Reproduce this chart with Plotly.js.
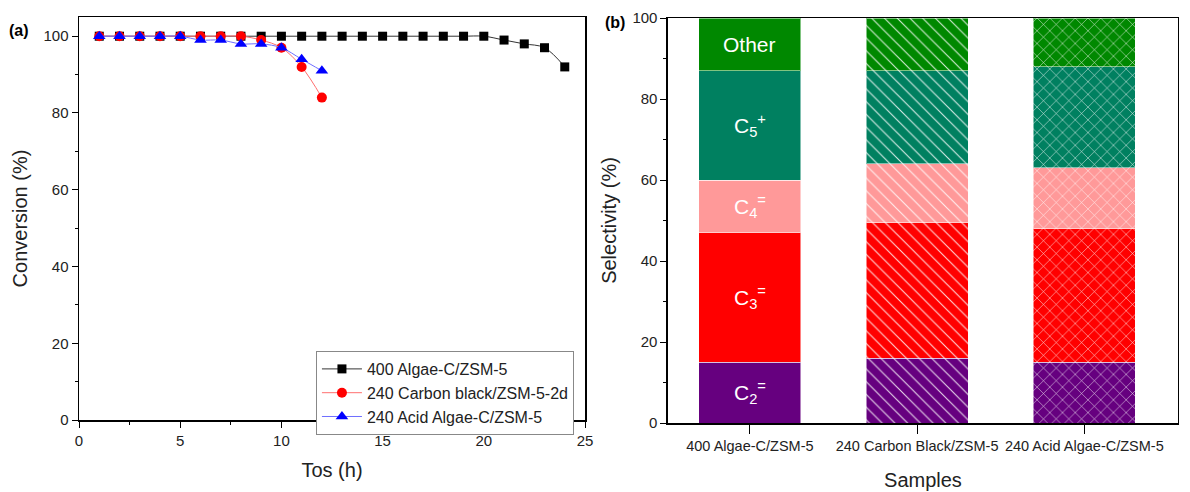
<!DOCTYPE html>
<html><head><meta charset="utf-8">
<script src="https://cdn.plot.ly/plotly-3.0.1.min.js"></script>
<style>html,body{margin:0;padding:0;background:#fff}#chart{width:1190px;height:492px}</style>
</head><body><div id="chart"></div>
<script>
// ---- Data: panel (a) conversion vs time on stream ----
const tosBlack = [1,2,3,4,5,6,7,8,9,10,11,12,13,14,15,16,17,18,19,20,21,22,23,24];
const convBlack = [100,100,100,100,100,100,100,100,100,100,100,100,100,100,100,100,100,100,100,100,99,98,97,92];
const tosRed = [1,2,3,4,5,6,7,8,9,10,11,12];
const convRed = [100,100,100,100,100,100,100,100,99,97,92,84];
const tosBlue = [1,2,3,4,5,6,7,8,9,10,11,12];
const convBlue = [100,100,100,100,100,99,99,98,98,97,94,91];
const seriesNames = ["400 Algae-C/ZSM-5","240 Carbon black/ZSM-5-2d","240 Acid Algae-C/ZSM-5"];

// ---- Data: panel (b) selectivity ----
const samples = ["400 Algae-C/ZSM-5","240 Carbon Black/ZSM-5","240 Acid Algae-C/ZSM-5"];
const productLabels = ["C<sub>2</sub><sup>=</sup>","C<sub>3</sub><sup>=</sup>","C<sub>4</sub><sup>=</sup>","C<sub>5</sub><sup>+</sup>","Other"];
const selC2 = [15,16,15];
const selC3 = [32,33.5,33];
const selC4 = [13,14.5,15];
const selC5 = [27,23,25];
const selOther = [13,13,12];
const productColors = ["#66007f","#ff0000","#ff9999","#008060","#008800"];
const patternShapes = ["","\\","x"];

const font = "Liberation Sans, Arial, sans-serif";
const traces = [];
traces.push({x:tosBlack,y:convBlack,name:seriesNames[0],type:"scatter",mode:"lines+markers",
  line:{color:"#333",width:1,shape:"spline"},marker:{symbol:"square",size:9,color:"#000"},xaxis:"x",yaxis:"y"});
traces.push({x:tosRed,y:convRed,name:seriesNames[1],type:"scatter",mode:"lines+markers",
  line:{color:"#ff6f6f",width:1,shape:"spline"},marker:{symbol:"circle",size:10,color:"#ff0000"},xaxis:"x",yaxis:"y"});
traces.push({x:tosBlue,y:convBlue,name:seriesNames[2],type:"scatter",mode:"lines+markers",
  line:{color:"#6f6fff",width:1,shape:"spline"},marker:{symbol:"triangle-up",size:11,color:"#0000ff"},xaxis:"x",yaxis:"y"});

const sel = [selC2,selC3,selC4,selC5,selOther];
sel.forEach((vals,i)=>{
  traces.push({x:samples,y:vals,type:"bar",name:productLabels[i],showlegend:false,xaxis:"x2",yaxis:"y2",
    width:0.61,
    marker:{color:productColors[i],line:{color:"rgba(255,255,255,0.5)",width:1},
      pattern:{shape:patternShapes,fgcolor:"rgba(255,255,255,0.85)",bgcolor:productColors[i],size:9,solidity:0.12,fillmode:"replace"}},
    hoverinfo:"y"});
});

// annotations: labels inside first bar at segment midpoints
const annotations = [];
let cum = 0;
sel.forEach((vals,i)=>{
  const mid = cum + vals[0]/2; cum += vals[0];
  annotations.push({x:samples[0],y:mid,xref:"x2",yref:"y2",text:productLabels[i],showarrow:false,
    font:{family:font,size:21,color:"#fff"}});
});
annotations.push({x:0.006,y:0.939,xref:"paper",yref:"paper",text:"<b>(a)</b>",showarrow:false,xanchor:"left",yanchor:"middle",font:{family:font,size:16,color:"#000"}});
annotations.push({x:0.507,y:0.955,xref:"paper",yref:"paper",text:"<b>(b)</b>",showarrow:false,xanchor:"left",yanchor:"middle",font:{family:font,size:16,color:"#000"}});

const axBase = {showline:true,linecolor:"#000",linewidth:1.5,mirror:true,ticks:"outside",ticklen:6,tickcolor:"#000",
  showgrid:false,zeroline:false,tickfont:{family:font,size:15,color:"#222"}};

const layout = {
  width:1190,height:492,margin:{l:0,r:0,t:0,b:0},paper_bgcolor:"#fff",plot_bgcolor:"#fff",
  font:{family:font,color:"#222"},barmode:"stack",
  xaxis:Object.assign({},axBase,{domain:[0.0664,0.4916],range:[0,25],dtick:5,
    minor:{dtick:2.5,ticklen:3,ticks:"outside",tickcolor:"#000"},
    title:{text:"Tos (h)",font:{family:font,size:20,color:"#222"},standoff:15},anchor:"y"}),
  yaxis:Object.assign({},axBase,{domain:[0.1463,0.9654],range:[0,105],dtick:20,
    minor:{dtick:10,ticklen:3,ticks:"outside",tickcolor:"#000"},
    title:{text:"Conversion (%)",font:{family:font,size:20,color:"#222"},standoff:10},anchor:"x"}),
  xaxis2:Object.assign({},axBase,{domain:[0.5613,0.9899],range:[-0.49,2.56],type:"category",
    tickfont:{family:font,size:14.5,color:"#222"},tickangle:0,ticklen:9,
    title:{text:"Samples",font:{family:font,size:20,color:"#222"},standoff:20},anchor:"y2"}),
  yaxis2:Object.assign({},axBase,{domain:[0.1402,0.9634],range:[0,100],dtick:20,
    minor:{dtick:10,ticklen:3,ticks:"outside",tickcolor:"#000"},
    title:{text:"Selectivity (%)",font:{family:font,size:20,color:"#222"},standoff:10},anchor:"x2"}),
  legend:{x:0.2655,y:0.2866,xanchor:"left",yanchor:"top",bordercolor:"#888",borderwidth:1,bgcolor:"#fff",
    font:{family:font,size:16,color:"#222"},tracegroupgap:0,itemwidth:40,traceorder:"normal"},
  annotations:annotations
};
Plotly.newPlot("chart",traces,layout,{displayModeBar:false,staticPlot:true});
</script></body></html>
